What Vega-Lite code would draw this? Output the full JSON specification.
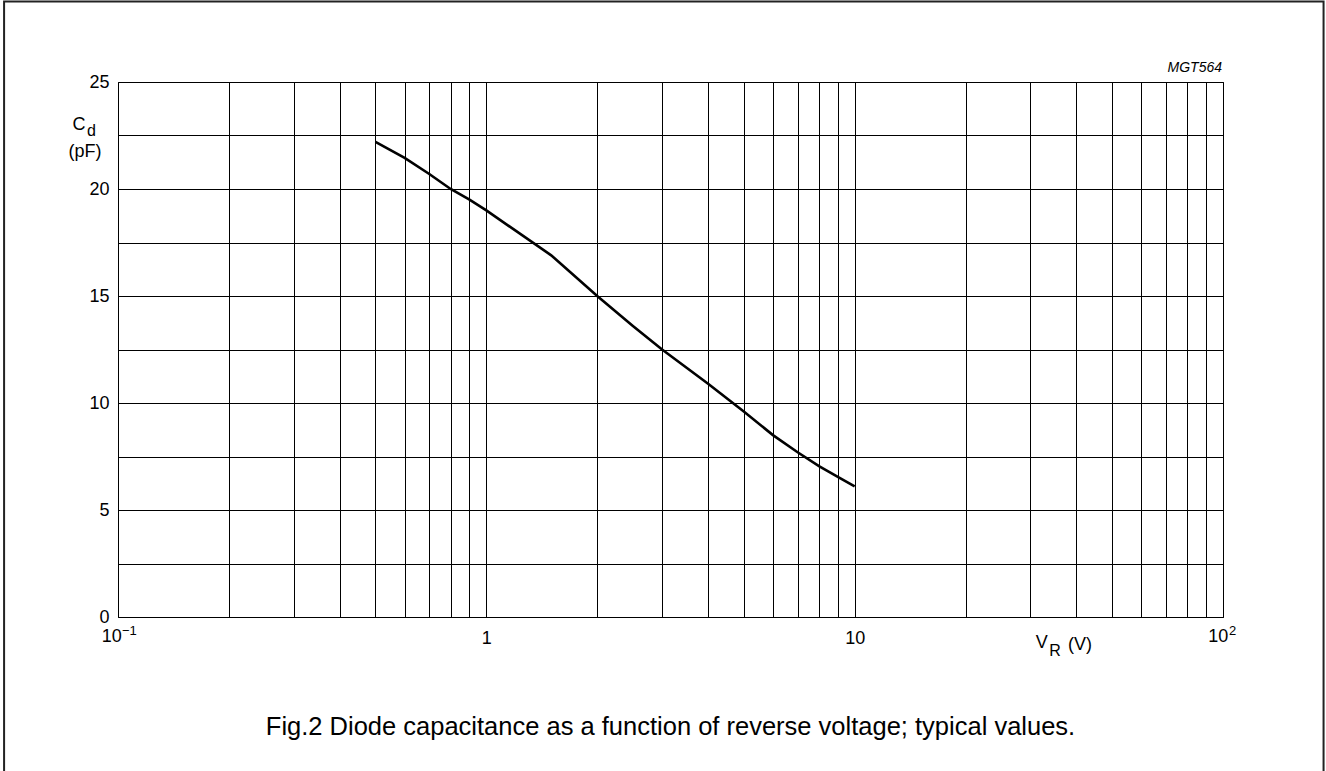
{
  "$schema": "https://vega.github.io/schema/vega-lite/v6.json",
  "width": 1105,
  "height": 535,
  "autosize": {"type": "none"},
  "padding": {"left": 118, "top": 82, "right": 103, "bottom": 154},
  "background": "white",
  "config": {
    "font": "Liberation Sans",
    "view": {"stroke": "#000", "strokeWidth": 1},
    "axis": {"labelFont": "Liberation Sans", "labelColor": "#000", "labelFontSize": 18},
    "text": {"font": "Liberation Sans", "color": "#000"}
  },
  "resolve": {"scale": {"x": "independent", "y": "independent"}, "axis": {"x": "independent", "y": "independent"}},
  "layer": [
    {
      "data": {
        "values": [
          {"vr": 0.5, "cd": 22.2},
          {"vr": 0.6, "cd": 21.45},
          {"vr": 0.7, "cd": 20.7},
          {"vr": 0.8, "cd": 20.0},
          {"vr": 0.9, "cd": 19.5},
          {"vr": 1.0, "cd": 19.0},
          {"vr": 1.5, "cd": 16.9},
          {"vr": 2.0, "cd": 15.0},
          {"vr": 2.5, "cd": 13.6},
          {"vr": 3.0, "cd": 12.5},
          {"vr": 4.0, "cd": 10.9},
          {"vr": 5.0, "cd": 9.6},
          {"vr": 6.0, "cd": 8.5},
          {"vr": 7.0, "cd": 7.7},
          {"vr": 8.0, "cd": 7.05},
          {"vr": 9.0, "cd": 6.55},
          {"vr": 10.0, "cd": 6.1}
        ]
      },
      "mark": {"type": "line", "color": "#000", "strokeWidth": 2.6, "interpolate": "linear"},
      "encoding": {
        "x": {
          "field": "vr", "type": "quantitative",
          "scale": {"type": "log", "domain": [0.1, 100], "nice": false},
          "axis": {
            "title": null,
            "values": [0.1,0.2,0.3,0.4,0.5,0.6,0.7,0.8,0.9,1,2,3,4,5,6,7,8,9,10,20,30,40,50,60,70,80,90,100],
            "labelExpr": "datum.value == 1 ? '1' : datum.value == 10 ? '10' : ''",
            "grid": true, "gridColor": "#000", "gridOpacity": 1, "gridWidth": 1,
            "ticks": false, "domain": false,
            "labelFlush": false, "labelOverlap": false, "labelBound": false,
            "labelPadding": 12
          }
        },
        "y": {
          "field": "cd", "type": "quantitative",
          "scale": {"domain": [0, 25], "nice": false, "zero": true},
          "axis": {
            "title": null,
            "values": [0,2.5,5,7.5,10,12.5,15,17.5,20,22.5,25],
            "labelExpr": "datum.value % 5 == 0 ? datum.label : ''",
            "grid": true, "gridColor": "#000", "gridOpacity": 1, "gridWidth": 1,
            "ticks": false, "domain": false,
            "labelFlush": false, "labelOverlap": false, "labelBound": false,
            "labelPadding": 9
          }
        }
      }
    },
    {
      "data": {"values": [{}]},
      "mark": {"type": "rect", "fill": null, "stroke": "#222", "strokeWidth": 2, "clip": false},
      "encoding": {
        "x": {"datum": 0.04906, "type": "quantitative", "scale": {"type": "log", "domain": [0.1, 100], "nice": false}, "axis": null},
        "x2": {"datum": 187.5},
        "y": {"datum": 28.76, "type": "quantitative", "scale": {"domain": [0, 25], "nice": false}, "axis": null},
        "y2": {"datum": -10}
      }
    },
    {
      "data": {"values": [{}]},
      "mark": {"type": "text", "text": "10", "fontSize": 18, "align": "right", "baseline": "middle", "dx": 3.7, "dy": 20},
      "encoding": {
        "x": {"datum": 0.1, "type": "quantitative", "scale": {"type": "log", "domain": [0.1, 100], "nice": false}, "axis": null},
        "y": {"datum": 0, "type": "quantitative", "scale": {"domain": [0, 25], "nice": false}, "axis": null}
      }
    },
    {
      "data": {"values": [{}]},
      "mark": {"type": "text", "text": "−1", "fontSize": 13, "align": "left", "baseline": "middle", "dx": 4, "dy": 13.5},
      "encoding": {
        "x": {"datum": 0.1, "type": "quantitative", "scale": {"type": "log", "domain": [0.1, 100], "nice": false}, "axis": null},
        "y": {"datum": 0, "type": "quantitative", "scale": {"domain": [0, 25], "nice": false}, "axis": null}
      }
    },
    {
      "data": {"values": [{}]},
      "mark": {"type": "text", "text": "10", "fontSize": 18, "align": "right", "baseline": "middle", "dx": 5.3, "dy": 20},
      "encoding": {
        "x": {"datum": 100, "type": "quantitative", "scale": {"type": "log", "domain": [0.1, 100], "nice": false}, "axis": null},
        "y": {"datum": 0, "type": "quantitative", "scale": {"domain": [0, 25], "nice": false}, "axis": null}
      }
    },
    {
      "data": {"values": [{}]},
      "mark": {"type": "text", "text": "2", "fontSize": 13, "align": "left", "baseline": "middle", "dx": 6, "dy": 14},
      "encoding": {
        "x": {"datum": 100, "type": "quantitative", "scale": {"type": "log", "domain": [0.1, 100], "nice": false}, "axis": null},
        "y": {"datum": 0, "type": "quantitative", "scale": {"domain": [0, 25], "nice": false}, "axis": null}
      }
    },
    {
      "data": {"values": [{}]},
      "mark": {"type": "text", "text": "C", "fontSize": 18, "align": "center", "baseline": "middle", "dx": -39, "dy": 43},
      "encoding": {
        "x": {"datum": 0.1, "type": "quantitative", "scale": {"type": "log", "domain": [0.1, 100], "nice": false}, "axis": null},
        "y": {"datum": 25, "type": "quantitative", "scale": {"domain": [0, 25], "nice": false}, "axis": null}
      }
    },
    {
      "data": {"values": [{}]},
      "mark": {"type": "text", "text": "d", "fontSize": 16, "align": "center", "baseline": "middle", "dx": -26.5, "dy": 48.5},
      "encoding": {
        "x": {"datum": 0.1, "type": "quantitative", "scale": {"type": "log", "domain": [0.1, 100], "nice": false}, "axis": null},
        "y": {"datum": 25, "type": "quantitative", "scale": {"domain": [0, 25], "nice": false}, "axis": null}
      }
    },
    {
      "data": {"values": [{}]},
      "mark": {"type": "text", "text": "(pF)", "fontSize": 18, "align": "center", "baseline": "middle", "dx": -33, "dy": 69.5},
      "encoding": {
        "x": {"datum": 0.1, "type": "quantitative", "scale": {"type": "log", "domain": [0.1, 100], "nice": false}, "axis": null},
        "y": {"datum": 25, "type": "quantitative", "scale": {"domain": [0, 25], "nice": false}, "axis": null}
      }
    },
    {
      "data": {"values": [{}]},
      "mark": {"type": "text", "text": "V", "fontSize": 18, "align": "center", "baseline": "middle", "dx": 187, "dy": 25.5},
      "encoding": {
        "x": {"datum": 10, "type": "quantitative", "scale": {"type": "log", "domain": [0.1, 100], "nice": false}, "axis": null},
        "y": {"datum": 0, "type": "quantitative", "scale": {"domain": [0, 25], "nice": false}, "axis": null}
      }
    },
    {
      "data": {"values": [{}]},
      "mark": {"type": "text", "text": "R", "fontSize": 16, "align": "center", "baseline": "middle", "dx": 200.3, "dy": 34},
      "encoding": {
        "x": {"datum": 10, "type": "quantitative", "scale": {"type": "log", "domain": [0.1, 100], "nice": false}, "axis": null},
        "y": {"datum": 0, "type": "quantitative", "scale": {"domain": [0, 25], "nice": false}, "axis": null}
      }
    },
    {
      "data": {"values": [{}]},
      "mark": {"type": "text", "text": "(V)", "fontSize": 18, "align": "center", "baseline": "middle", "dx": 225.3, "dy": 28},
      "encoding": {
        "x": {"datum": 10, "type": "quantitative", "scale": {"type": "log", "domain": [0.1, 100], "nice": false}, "axis": null},
        "y": {"datum": 0, "type": "quantitative", "scale": {"domain": [0, 25], "nice": false}, "axis": null}
      }
    },
    {
      "data": {"values": [{}]},
      "mark": {"type": "text", "text": "MGT564", "fontSize": 14, "fontStyle": "italic", "align": "right", "baseline": "alphabetic", "dx": -1, "dy": -10},
      "encoding": {
        "x": {"datum": 100, "type": "quantitative", "scale": {"type": "log", "domain": [0.1, 100], "nice": false}, "axis": null},
        "y": {"datum": 25, "type": "quantitative", "scale": {"domain": [0, 25], "nice": false}, "axis": null}
      }
    },
    {
      "data": {"values": [{}]},
      "mark": {"type": "text", "text": "Fig.2  Diode capacitance as a function of reverse voltage; typical values.", "fontSize": 25.5, "align": "center", "baseline": "alphabetic", "dy": 118},
      "encoding": {
        "x": {"datum": 3.16228, "type": "quantitative", "scale": {"type": "log", "domain": [0.1, 100], "nice": false}, "axis": null},
        "y": {"datum": 0, "type": "quantitative", "scale": {"domain": [0, 25], "nice": false}, "axis": null}
      }
    }
  ]
}
